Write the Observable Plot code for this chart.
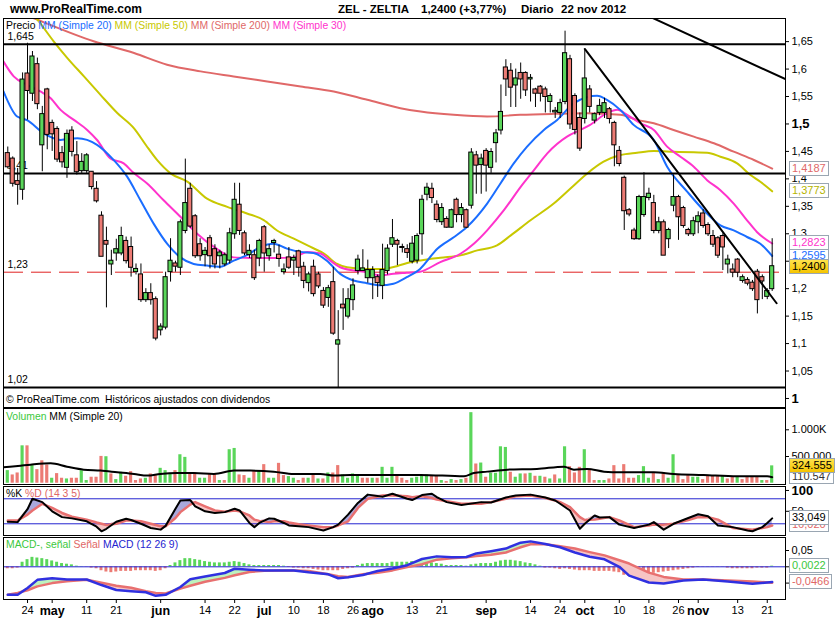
<!DOCTYPE html>
<html><head><meta charset="utf-8">
<script src="https://cdn.jsdelivr.net/npm/d3@7"></script>
<script src="https://cdn.jsdelivr.net/npm/@observablehq/plot@0.6"></script>
<style>
html,body{margin:0;padding:0;background:#fff;}
#chart{position:relative;width:835px;height:620px;overflow:hidden;font-family:"Liberation Sans",Arial,sans-serif;background:#fff;}
#chart svg{position:absolute;left:0;overflow:visible;}
.t{position:absolute;white-space:pre;line-height:1;}
.box{position:absolute;left:789px;height:13px;padding:0 2px;min-width:31px;border:1px solid #9aa6b2;background:#fff;font-size:11px;line-height:13px;text-align:center;white-space:pre;}
</style></head><body><div id="chart"></div>
<script>
// ---------- DATA ----------
const openP = [1.446,1.436,1.395,1.381,1.591,1.556,1.608,1.462,1.562,1.501,1.490,1.446,1.421,1.487,1.442,1.415,1.415,1.412,1.381,1.332,
1.286,1.245,1.265,1.265,1.286,1.275,1.231,1.225,1.180,1.191,1.180,1.125,1.130,1.231,1.245,1.239,1.306,1.381,1.331,1.280,
1.262,1.291,1.271,1.260,1.245,1.252,1.300,1.352,1.300,1.262,1.260,1.256,1.311,1.260,1.284,1.261,1.231,1.256,1.252,1.267,
1.239,1.211,1.239,1.225,1.195,1.184,1.211,1.099,1.170,1.150,1.180,1.233,1.233,1.220,1.220,1.220,1.206,1.233,1.281,1.286,
1.275,1.271,1.250,1.252,1.300,1.372,1.381,1.352,1.322,1.326,1.312,1.361,1.335,1.342,1.352,1.442,1.426,1.450,1.421,1.466,
1.489,1.602,1.596,1.571,1.592,1.592,1.582,1.562,1.567,1.562,1.541,1.522,1.521,1.541,1.617,1.550,1.510,1.510,1.562,1.507,
1.521,1.521,1.526,1.501,1.450,1.401,1.342,1.305,1.291,1.335,1.366,1.355,1.306,1.320,1.291,1.352,1.366,1.346,1.306,1.300,
1.322,1.336,1.315,1.295,1.291,1.295,1.245,1.234,1.252,1.215,1.215,1.210,1.230,1.220,1.186,1.200];
const highP = [1.458,1.440,1.419,1.593,1.647,1.632,1.620,1.532,1.565,1.507,1.495,1.459,1.489,1.495,1.468,1.446,1.446,1.413,1.395,1.340,
1.312,1.270,1.290,1.312,1.294,1.294,1.245,1.245,1.200,1.209,1.185,1.136,1.230,1.291,1.250,1.325,1.436,1.392,1.335,1.291,
1.275,1.297,1.280,1.270,1.265,1.310,1.392,1.392,1.305,1.280,1.270,1.290,1.315,1.280,1.290,1.279,1.245,1.275,1.261,1.270,
1.248,1.230,1.252,1.230,1.202,1.206,1.239,1.160,1.200,1.200,1.218,1.261,1.271,1.252,1.240,1.225,1.281,1.280,1.326,1.290,
1.281,1.280,1.295,1.300,1.370,1.392,1.392,1.360,1.355,1.331,1.345,1.365,1.355,1.345,1.455,1.450,1.445,1.455,1.455,1.490,
1.571,1.617,1.610,1.600,1.611,1.595,1.590,1.565,1.570,1.567,1.555,1.530,1.545,1.669,1.625,1.555,1.520,1.635,1.570,1.520,
1.545,1.547,1.530,1.505,1.459,1.405,1.346,1.310,1.370,1.411,1.383,1.370,1.330,1.325,1.310,1.407,1.370,1.350,1.310,1.330,
1.340,1.344,1.320,1.306,1.295,1.300,1.261,1.245,1.255,1.225,1.220,1.215,1.235,1.225,1.200,1.291];
const lowP = [1.418,1.385,1.352,1.361,1.507,1.541,1.526,1.413,1.453,1.450,1.430,1.420,1.401,1.440,1.407,1.410,1.410,1.380,1.356,1.259,
1.165,1.224,1.250,1.260,1.245,1.221,1.225,1.175,1.175,1.170,1.105,1.114,1.125,1.212,1.230,1.224,1.300,1.310,1.255,1.250,
1.240,1.236,1.236,1.236,1.240,1.245,1.290,1.297,1.260,1.255,1.215,1.240,1.230,1.250,1.265,1.239,1.225,1.235,1.224,1.221,
1.200,1.194,1.185,1.200,1.164,1.166,1.115,1.020,1.124,1.145,1.160,1.225,1.233,1.210,1.180,1.184,1.180,1.225,1.275,1.242,
1.265,1.255,1.245,1.245,1.261,1.360,1.355,1.320,1.315,1.310,1.310,1.320,1.320,1.310,1.345,1.372,1.372,1.376,1.410,1.429,
1.480,1.550,1.530,1.530,1.545,1.550,1.540,1.530,1.540,1.520,1.520,1.510,1.510,1.535,1.490,1.480,1.450,1.500,1.520,1.500,
1.515,1.510,1.500,1.422,1.422,1.306,1.331,1.288,1.288,1.330,1.360,1.300,1.300,1.261,1.273,1.340,1.288,1.310,1.295,1.295,
1.300,1.310,1.295,1.275,1.255,1.233,1.227,1.220,1.220,1.210,1.205,1.195,1.154,1.180,1.180,1.195];
const closeP = [1.422,1.392,1.390,1.580,1.561,1.622,1.537,1.517,1.481,1.482,1.436,1.431,1.481,1.450,1.413,1.430,1.442,1.386,1.360,1.259,
1.281,1.250,1.271,1.295,1.251,1.239,1.235,1.180,1.191,1.180,1.110,1.130,1.220,1.250,1.241,1.320,1.355,1.314,1.260,1.260,
1.268,1.260,1.245,1.265,1.260,1.300,1.361,1.306,1.265,1.268,1.220,1.286,1.265,1.271,1.286,1.255,1.234,1.239,1.255,1.239,
1.215,1.225,1.191,1.205,1.170,1.200,1.119,1.105,1.165,1.180,1.205,1.252,1.236,1.233,1.233,1.211,1.233,1.272,1.291,1.281,
1.275,1.266,1.281,1.295,1.361,1.383,1.366,1.326,1.346,1.312,1.342,1.335,1.346,1.312,1.447,1.425,1.436,1.425,1.448,1.482,
1.521,1.582,1.567,1.582,1.582,1.562,1.583,1.556,1.556,1.550,1.550,1.523,1.537,1.628,1.500,1.490,1.456,1.582,1.532,1.517,
1.532,1.537,1.510,1.462,1.428,1.342,1.336,1.291,1.366,1.366,1.372,1.306,1.320,1.261,1.306,1.366,1.331,1.315,1.300,1.322,
1.331,1.315,1.300,1.281,1.261,1.276,1.252,1.230,1.230,1.220,1.210,1.200,1.180,1.214,1.195,1.240];
// volume, thousands of shares
const volumeK = [236,155,192,700,700,330,254,420,341,93,180,93,80,93,93,236,50,112,112,502,
496,174,68,205,130,217,50,80,93,174,143,279,236,174,236,533,484,174,192,93,
93,174,174,50,50,627,651,155,143,93,223,223,348,93,93,372,143,124,93,50,
93,93,174,80,80,192,192,330,155,93,174,155,93,93,93,93,298,93,298,155,
93,50,93,112,155,155,143,143,50,31,68,50,68,93,1321,360,378,112,186,186,
682,670,205,112,174,174,186,130,130,112,80,155,80,682,310,192,298,627,267,50,
50,50,80,329,80,348,93,93,143,310,93,192,68,192,93,533,155,68,143,112,
112,68,130,130,130,130,80,112,112,68,112,112,112,50,50,325];
const volMA20 = [[-0.9,298],[2.6,329],[4.6,347],[8.7,372],[12,310],[15.4,254],[18.8,236],[22.2,205],[25.6,174],[28.3,143],[30.9,174],[34.3,192],[37.7,192],[41.8,174],[45.9,236],[49.2,236],[53.9,217],[58,174],[63.4,174],[66.1,143],[69.5,155],[72.8,155],[78.3,155],[83.7,155],[92.5,130],[94.5,192],[97.2,217],[101.3,254],[107.3,267],[112.8,310],[114.8,254],[117.5,267],[120.9,217],[124.2,205],[131,205],[135,174],[141.1,155],[147.9,130],[154,130],[155,110.5]];
// moving averages [candle index, price]
const ma20 = [[-0.9,1.56],[1.9,1.5135],[3.9,1.507],[7.3,1.483],[10.7,1.471],[14.1,1.474],[18.1,1.462],[21.5,1.434],[24.2,1.404],[26.9,1.361],[29.6,1.318],[32.3,1.282],[35,1.257],[37.7,1.245],[40.4,1.242],[43.1,1.240],[45.8,1.251],[48.5,1.261],[51.2,1.276],[53.9,1.282],[56.6,1.273],[59.3,1.267],[62,1.265],[64.7,1.251],[67.4,1.227],[70.1,1.215],[72.8,1.210],[75.5,1.206],[78.2,1.209],[80.9,1.221],[83.6,1.236],[87.1,1.2728],[90.5,1.2941],[93.1,1.3124],[97.2,1.355],[99.9,1.3916],[102.6,1.4282],[105.3,1.4587],[108.7,1.4891],[111.4,1.5074],[114.8,1.5379],[117.5,1.5489],[119.5,1.5513],[121.5,1.544],[124.2,1.5257],[126.9,1.4983],[131,1.4709],[133.7,1.4221],[137.8,1.3764],[141.1,1.3429],[144.5,1.3154],[147.2,1.3063],[149.9,1.2941],[152.6,1.2819],[155,1.2595]];
const ma30 = [[-0.9,1.614],[1.2,1.5866],[3.9,1.5713],[6.6,1.5592],[8.7,1.547],[10.7,1.5256],[13.4,1.5074],[16.1,1.4891],[18.1,1.4708],[20.8,1.4373],[23.5,1.4281],[25.5,1.411],[28.2,1.392],[31.6,1.361],[35,1.331],[38.4,1.300],[41.8,1.276],[45.8,1.257],[49.9,1.256],[53.9,1.2557],[58,1.257],[60.7,1.267],[63.4,1.264],[65.4,1.251],[67.4,1.239],[70.1,1.233],[72.8,1.230],[75.5,1.224],[78.2,1.227],[80.9,1.229],[83.6,1.231],[87.7,1.2484],[91.8,1.2636],[94.5,1.2819],[97.2,1.3063],[100.6,1.3429],[104,1.3855],[106.7,1.416],[109.4,1.4465],[113.4,1.4769],[116.1,1.4891],[118,1.498],[121.5,1.5196],[123.6,1.5257],[125.6,1.5166],[128.3,1.5013],[131,1.4891],[133.7,1.4587],[136.4,1.4404],[139.1,1.4221],[141.8,1.3977],[144.5,1.3794],[147.2,1.355],[149.9,1.3246],[151.9,1.3033],[155,1.2823]];
const ma50 = [[-0.9,1.76],[3,1.72],[6,1.6902],[9.3,1.6506],[12,1.621],[15.4,1.587],[18.8,1.553],[22.2,1.52],[25.6,1.492],[28,1.4617],[30.3,1.434],[33,1.410],[36.4,1.395],[40.4,1.364],[44.5,1.349],[48.5,1.337],[51.9,1.325],[54.6,1.306],[58,1.291],[61.4,1.276],[64.1,1.264],[66.8,1.245],[68.8,1.239],[72.8,1.236],[76.2,1.236],[78.9,1.241],[81.6,1.248],[83.7,1.2515],[87.7,1.2563],[91.8,1.2606],[95.2,1.2697],[99.2,1.2789],[102,1.2971],[106,1.3246],[110.7,1.355],[114.1,1.3825],[117.5,1.4099],[120.8,1.4312],[124.2,1.4434],[127.6,1.4477],[131,1.4507],[135,1.4495],[139.1,1.4483],[141.8,1.4477],[144.5,1.4404],[147.9,1.4282],[150.6,1.4069],[152.6,1.3947],[155,1.3773]];
const ma200 = [[-0.9,1.715],[5.3,1.6925],[17.4,1.6506],[25.6,1.6293],[32.3,1.608],[39.1,1.5958],[45.8,1.5866],[52.6,1.5775],[59.4,1.5684],[66.1,1.5592],[72.9,1.544],[79.6,1.5288],[83.7,1.5227],[90.4,1.5166],[97.2,1.5135],[103.9,1.5166],[110.7,1.5184],[117.5,1.5196],[124.2,1.5166],[127.6,1.5074],[131,1.5013],[135,1.4891],[139.1,1.477],[143.2,1.4648],[147.2,1.4495],[151.3,1.4343],[155,1.4187]];
const trendDown = [[117,1.6366],[155.9,1.1734]];
const trendUpper = [[128,1.7045],[158,1.5803]];
const levelsSolid = [1.645,1.41,1.02];
const levelDashed = [1.23];
const levelLabels = ["1,645","1,41","1,23","1,02"];
const levelValues = [1.645,1.41,1.23,1.02];
const priceTicks = [1.05,1.1,1.15,1.2,1.3,1.35,1.4,1.45,1.55,1.6,1.65];
const priceTicksBold = [1,1.5];
const priceTicksHidden = [1.25];
// stochastic %K / %D (14 3 5)
const stochIdx = [0,2,4,5,7,9,11,13,16,18,19,20,22,24,25,27,29,31,32,34,35,37,38,40,42,44,46,47,49,50,51,53,54,56,57,59,61,64,66,67,69,71,73,76,78,81,82,84,86,87,89,92,96,98,101,103,106,109,111,112,114,116,117,119,120,122,124,127,130,131,133,135,138,140,142,144,147,150,151,153,154,155];
const stochK = [25,24,55,80,72,50,36,33,26,13,2,8,25,32,29,20,10,6,15,56,76,77,62,50,46,48,56,52,22,12,22,33,32,22,16,14,12,4,12,18,42,70,90,85,92,80,77,89,92,84,72,65,72,71,83,88,90,83,76,68,52,8,20,40,35,36,18,10,18,24,6,20,34,43,38,16,12,4,2,12,22,33];
const stochD = [28,28,42,52,68,58,46,37,30,23,20,17,20,28,28,26,20,14,14,34,48,66,72,62,52,49,52,50,40,30,27,24,26,26,23,19,16,12,12,16,26,58,80,88,88,86,84,86,82,78,74,68,68,72,80,86,88,82,76,72,60,36,29,30,32,36,28,12,16,18,18,20,29,36,36,30,10,7,6,10,12,16];
// MACD (12 26 9)
const macdIdx = [0,2,4,6,9,12,16,19,22,25,28,30,32,35,37,40,44,46,49,52,55,58,61,65,67,69,72,75,78,81,84,87,90,93,95,98,101,104,106,109,112,115,118,121,124,126,130,133,137,141,146,151,155];
const macdLine = [-0.086,-0.086,-0.065,-0.040,-0.035,-0.039,-0.039,-0.056,-0.071,-0.075,-0.078,-0.089,-0.086,-0.062,-0.038,-0.030,-0.019,-0.006,-0.009,-0.011,-0.011,-0.011,-0.017,-0.023,-0.035,-0.032,-0.025,-0.013,-0.005,0.005,0.024,0.032,0.029,0.030,0.041,0.048,0.056,0.074,0.078,0.070,0.060,0.044,0.031,0.023,0.000,-0.027,-0.048,-0.051,-0.042,-0.039,-0.045,-0.052,-0.0466];
const signalLine = [-0.086,-0.080,-0.072,-0.060,-0.050,-0.044,-0.040,-0.049,-0.058,-0.064,-0.075,-0.080,-0.082,-0.067,-0.058,-0.046,-0.034,-0.026,-0.016,-0.012,-0.011,-0.011,-0.013,-0.023,-0.029,-0.031,-0.023,-0.018,-0.011,-0.001,0.008,0.022,0.026,0.029,0.033,0.037,0.044,0.060,0.069,0.069,0.063,0.056,0.045,0.035,0.020,0.010,-0.018,-0.031,-0.039,-0.039,-0.042,-0.045,-0.0488];
const macdHist = [-0.006,-0.006,-0.004,0.014,0.022,0.029,0.027,0.025,0.022,0.018,0.014,0.010,0.008,0.006,0.002,0.001,-0.001,-0.004,-0.006,-0.012,
-0.016,-0.018,-0.016,-0.014,-0.014,-0.014,-0.012,-0.012,-0.012,-0.012,-0.014,-0.012,-0.006,0.004,0.012,0.019,0.025,0.025,0.022,0.020,
0.016,0.014,0.012,0.012,0.012,0.014,0.016,0.014,0.010,0.006,0.004,0.004,0.004,0.004,0.004,0.004,0.002,-0.002,-0.004,-0.004,
-0.006,-0.006,-0.008,-0.010,-0.012,-0.012,-0.012,-0.012,-0.008,-0.006,-0.004,0.004,0.008,0.010,0.010,0.010,0.010,0.010,0.014,0.014,
0.014,0.014,0.016,0.016,0.014,0.014,0.012,0.010,0.008,0.004,0.004,0.004,0.004,0.002,0.006,0.008,0.010,0.010,0.010,0.014,
0.018,0.020,0.020,0.018,0.016,0.012,0.010,0.006,0.002,-0.004,-0.004,-0.006,-0.008,-0.006,-0.008,-0.010,-0.012,-0.012,-0.012,-0.014,
-0.014,-0.014,-0.014,-0.016,-0.018,-0.026,-0.029,-0.031,-0.031,-0.027,-0.022,-0.020,-0.018,-0.016,-0.014,-0.012,-0.010,-0.008,-0.006,-0.004,
-0.002,-0.001,-0.001,-0.001,-0.001,-0.001,-0.004,-0.006,-0.006,-0.006,-0.006,-0.006,-0.004,-0.004,-0.004,0.002];
// date axis
const xTickIdx = [4,9,16,22,31,40,46,52,58,64,70,74,82,88,97,106,112,117,124,130,136,140,148,154];
const xTickLabels = ["24","may","11","21","jun","14","22","jul","10","18","26","ago","13","21","sep","14","24","oct","10","18","26","nov","13","21"];
const monthNames = ["may","jun","jul","ago","sep","oct","nov"];

// ---------- STYLE / LAYOUT ----------
const G = "#5ad65a", R = "#ec7b74";
const C20 = "#1a6dff", C30 = "#ff33cc", C50 = "#c8c800", C200 = "#e06868";
const BLUE = "#2424d0";
const fmt = v => String(+v.toFixed(4)).replace(".", ",");
const chart = document.getElementById("chart");
const baseStyle = {background:"transparent", fontFamily:"'Liberation Sans', Arial, sans-serif", fontSize:"11px", color:"#000", overflow:"visible"};
const X = {domain:[-0.87, 157.7], axis:null};
const M = {width:835, marginLeft:3, marginRight:50, marginTop:0};
function place(svg, top){ svg.style.top = top + "px"; chart.appendChild(svg); return svg; }
function txt(x, top, html, size, weight){ const d=document.createElement("div"); d.className="t"; d.style.left=x+"px"; d.style.top=top+"px"; d.style.fontSize=size+"px"; if(weight) d.style.fontWeight=weight; d.innerHTML=html; chart.appendChild(d); return d; }
function box(text, yc, color, bg){ const d=document.createElement("div"); d.className="box"; d.textContent=text; d.style.top=(yc-7.5)+"px"; d.style.color=color; if(bg) d.style.background=bg; chart.appendChild(d); return d; }

const candles = openP.map((o,i)=>({i, o, h:highP[i], l:lowP[i], c:closeP[i], col: closeP[i]>=o ? G : R}));
const rightAxis = (ticks, f, extra={}) => Plot.axisY({anchor:"right", ticks, tickFormat:f, tickSize:3, tickPadding:3, fontSize:11, label:null, ...extra});

// ---------- PRICE PANEL ----------
const PT = 18, PH = 389;
const price = Plot.plot({...M, height:PH, marginBottom:0, style:baseStyle, x:X,
  y:{domain:[0.98355, 1.6921], axis:null}, color:{type:"identity"},
  marks:[
    Plot.text(levelValues, {x:-0.87, y:d=>d, text:(d,i)=>levelLabels[i], textAnchor:"start", dx:4, dy:-8, fontSize:10.5, fill:"#000"}),
    Plot.ruleY(levelDashed, {stroke:"#e02020", strokeWidth:1, strokeDasharray:"20,8"}),
    Plot.line(ma200, {x:d=>d[0], y:d=>d[1], stroke:C200, strokeWidth:2, curve:"monotone-x", clip:true}),
    Plot.line(ma50, {x:d=>d[0], y:d=>d[1], stroke:C50, strokeWidth:2, curve:"monotone-x", clip:true}),
    Plot.line(ma30, {x:d=>d[0], y:d=>d[1], stroke:C30, strokeWidth:2, curve:"monotone-x", clip:true}),
    Plot.line(ma20, {x:d=>d[0], y:d=>d[1], stroke:C20, strokeWidth:2, curve:"monotone-x", clip:true}),
    Plot.ruleY(levelsSolid, {stroke:"#000", strokeWidth:2}),
    Plot.ruleX(candles, {x:"i", y1:"l", y2:"h", stroke:"#000", strokeWidth:1}),
    Plot.rect(candles, {x1:d=>d.i-0.42, x2:d=>d.i+0.42, y1:d=>Math.min(d.o,d.c), y2:d=>Math.max(d.o,d.c), fill:"col", stroke:"#000", strokeWidth:1, insetTop:-0.5, insetBottom:-0.5}),
    Plot.line(trendDown, {x:d=>d[0], y:d=>d[1], stroke:"#000", strokeWidth:2, clip:true}),
    Plot.line(trendUpper, {x:d=>d[0], y:d=>d[1], stroke:"#000", strokeWidth:2, clip:true}),
    rightAxis(priceTicks, fmt),
    rightAxis(priceTicksHidden, () => ""),
    rightAxis(priceTicksBold, fmt, {fontWeight:"bold", fontSize:13}),
    Plot.frame({stroke:"#000"})
  ]});
place(price, PT);
const py = v => PT + price.scale("y").apply(v);

// ---------- VOLUME PANEL ----------
const VT = 408, VH = 76;
const vols = volumeK.map((v,i)=>({i, v:v*1000, col: i===0 || closeP[i]>=closeP[i-1] ? G : R}));
const vol = Plot.plot({...M, height:VH, marginBottom:0, style:baseStyle, x:X,
  y:{domain:[-24000, 1399000], axis:null}, color:{type:"identity"},
  marks:[
    Plot.rect(vols, {x1:d=>d.i-0.32, x2:d=>d.i+0.32, y1:0, y2:"v", fill:"col"}),
    Plot.line(volMA20, {x:d=>d[0], y:d=>d[1]*1000, stroke:"#000", strokeWidth:2, curve:"monotone-x", clip:true}),
    rightAxis([1000000], () => "1.000K"),
    rightAxis([500000], () => "500.000"),
    Plot.frame({stroke:"#000"})
  ]});
place(vol, VT);
const vy = v => VT + vol.scale("y").apply(v);

// ---------- STOCHASTIC PANEL ----------
const ST = 486, SH = 49;
const st = stochIdx.map((i,k)=>({i, k:stochK[k], d:stochD[k]}));
const stoch = Plot.plot({...M, height:SH, marginBottom:0, style:baseStyle, x:X,
  y:{domain:[-8.1, 109.5], axis:null},
  marks:[
    Plot.areaY(st, {x:"i", y1:"d", y2:d=>Math.max(d.k,d.d), fill:"#a9a9dc", curve:"linear"}),
    Plot.areaY(st, {x:"i", y1:"k", y2:d=>Math.max(d.k,d.d), fill:"#f6c4c4", curve:"linear"}),
    Plot.ruleY([20,80], {stroke:BLUE, strokeWidth:1}),
    Plot.line(st, {x:"i", y:"d", stroke:"#e87070", strokeWidth:2.5}),
    Plot.line(st, {x:"i", y:"k", stroke:"#000", strokeWidth:2}),
    rightAxis([50], d=>String(d)),
    rightAxis([100], d=>String(d), {fontWeight:"bold", fontSize:13}),
    Plot.frame({stroke:"#000"})
  ]});
place(stoch, ST);
const sy = v => ST + stoch.scale("y").apply(v);

// ---------- MACD PANEL + DATE AXIS ----------
const MT = 537, MH = 62;
const md = macdIdx.map((i,k)=>({i, m:macdLine[k], s:signalLine[k]}));
const hist = macdHist.map((h,i)=>({i, h}));
const isMonth = i => monthNames.includes(xTickLabels[xTickIdx.indexOf(i)]);
const macd = Plot.plot({...M, height:MH+21, marginBottom:21, style:baseStyle,
  x:{domain:X.domain}, y:{domain:[-0.1003, 0.0899], axis:null}, color:{type:"identity"},
  marks:[
    Plot.rect(hist, {x1:d=>d.i-0.3, x2:d=>d.i+0.3, y1:0, y2:"h", fill:d=>d.h>=0?G:R}),
    Plot.ruleY([0], {stroke:BLUE, strokeWidth:1}),
    Plot.areaY(md, {x:"i", y1:"s", y2:d=>Math.max(d.m,d.s), fill:"#bdf2bd"}),
    Plot.areaY(md, {x:"i", y1:"m", y2:d=>Math.max(d.m,d.s), fill:"#f6c4c4"}),
    Plot.line(md, {x:"i", y:"s", stroke:"#e87070", strokeWidth:2.5}),
    Plot.line(md, {x:"i", y:"m", stroke:"#3030e0", strokeWidth:2.5}),
    rightAxis([0.05], fmt),
    rightAxis([0, -0.05], () => ""),
    Plot.axisX({anchor:"bottom", label:null, ticks:xTickIdx.filter(i=>!isMonth(i)), tickFormat:i=>xTickLabels[xTickIdx.indexOf(i)], tickSize:4, tickPadding:3, fontSize:11}),
    Plot.axisX({anchor:"bottom", label:null, ticks:xTickIdx.filter(isMonth), tickFormat:i=>xTickLabels[xTickIdx.indexOf(i)], tickSize:4, tickPadding:3, fontSize:12.5, fontWeight:"bold"}),
    Plot.frame({stroke:"#000"})
  ]});
place(macd, MT);
const my = v => MT + macd.scale("y").apply(v);

// ---------- TEXTS ----------
txt(10, 3, "www.ProRealTime.com", 12, "bold");
txt(338, 4, "ZEL - ZELTIA", 11.5, "bold");
txt(421, 4, "1,2400 (+3,77%)", 11.5, "bold");
txt(521, 4, "Diario", 11.5, "bold");
txt(561, 4, "22 nov 2012", 11.5, "bold");
txt(6, 21, `Precio <span style="color:${C20}">MM (Simple 20)</span> <span style="color:${C50}">MM (Simple 50)</span> <span style="color:${C200}">MM (Simple 200)</span> <span style="color:${C30}">MM (Simple 30)</span>`, 10.4);
txt(6, 395, "© ProRealTime.com  Históricos ajustados con dividendos", 10.4);
txt(6, 412, `<span style="color:#3cc83c">Volumen</span> MM (Simple 20)`, 10.4);
txt(6, 489, `%K <span style="color:#e06666">%D (14 3 5)</span>`, 10.4);
txt(6, 540, `<span style="color:#3cc83c">MACD-, señal</span> <span style="color:#e06666">Señal</span> <span style="color:#2424d0">MACD (12 26 9)</span>`, 10.4);

// ---------- LAST VALUE BOXES ----------
const last = a => a[a.length-1][1];
box(fmt(last(ma200)), py(last(ma200)), C200);
box(fmt(last(ma50)), py(last(ma50)), "#b4b400");
box(fmt(last(ma20)), py(last(ma20)), C20);
box(fmt(last(ma30)), py(last(ma30)), C30);
box(closeP[closeP.length-1].toFixed(4).replace(".", ","), py(closeP[closeP.length-1]), "#000", "linear-gradient(#ffe34d,#f5c400)");
box("110.547", vy(last(volMA20)*1000), "#333");
box("324.555", vy(volumeK[volumeK.length-1]*1000), "#000", "linear-gradient(#ffe34d,#f5c400)");
box("16,020", sy(stochD[stochD.length-1]), "#e06666");
box("33,049", sy(stochK[stochK.length-1]), "#000");
box("0,0022", my(macdHist[macdHist.length-1]), "#3cc83c");
box("-0,0466", my(macdLine[macdLine.length-1]), "#e06666");
</script></body></html>
